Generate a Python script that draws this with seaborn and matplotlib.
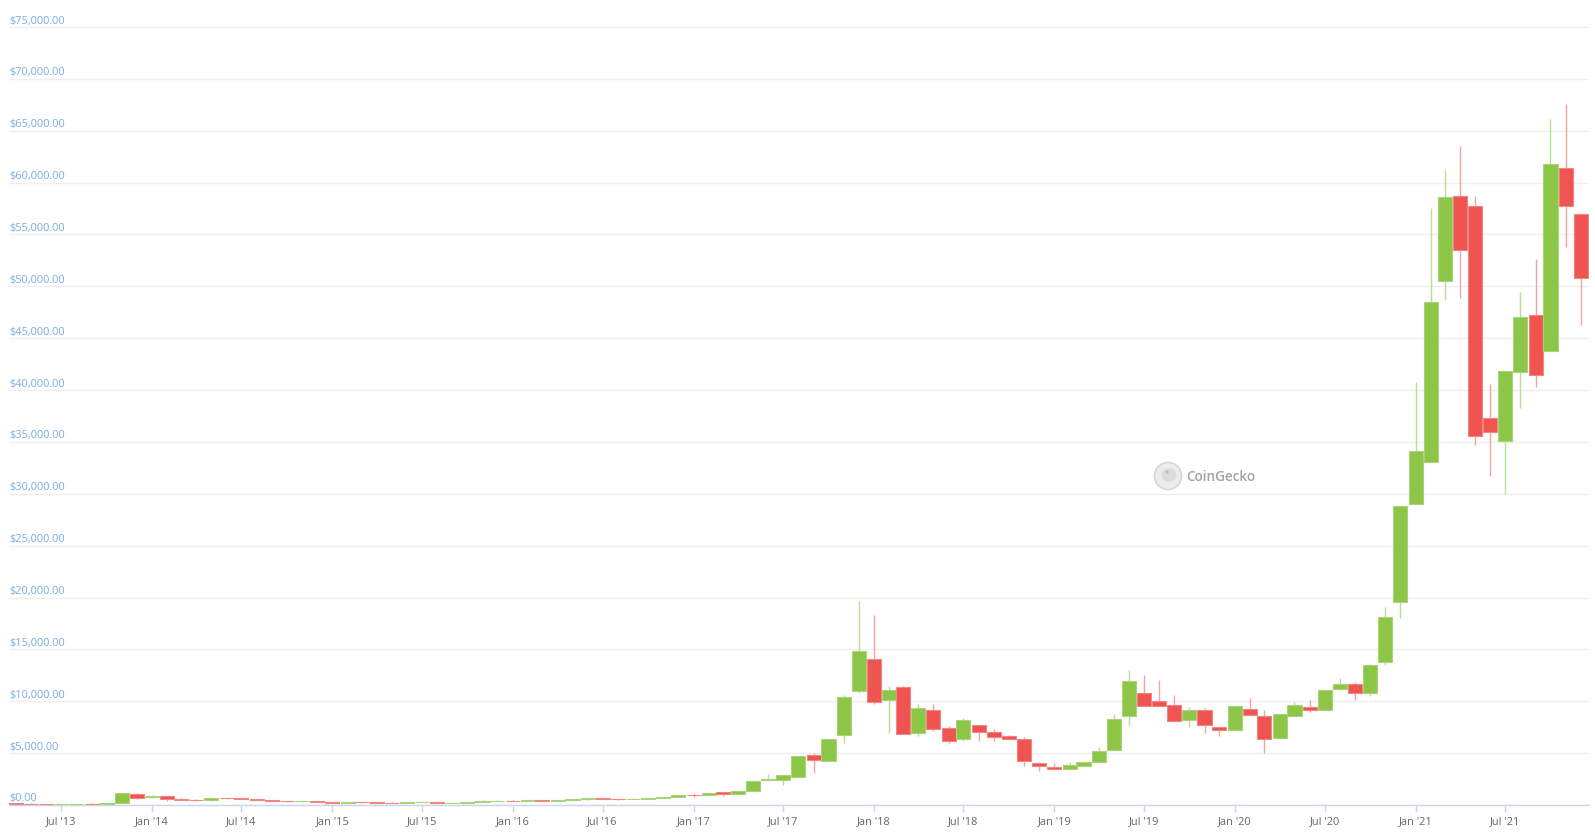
import pandas as pd
import numpy as np
import matplotlib
matplotlib.use("Agg")
import matplotlib.pyplot as plt
import matplotlib.dates as mdates
from matplotlib.patches import Circle, Ellipse
from matplotlib.transforms import IdentityTransform, offset_copy
import seaborn as sns

# monthly candles, Apr 2013 .. Dec 2021 (USD)
months = pd.date_range("2013-04-01", "2021-12-01", freq="MS")

opens = [145, 139, 129, 97, 106, 141, 133, 204, 1080,
         770, 860, 560, 450, 445, 640, 630, 585, 480, 387, 338, 378,
         320, 217, 254, 244, 236, 230, 263, 284, 230, 236, 314, 378,
         430, 369, 437, 416, 448, 531, 673, 624, 574, 609, 698, 742,
         1000, 950, 1220, 1040, 1330, 2400, 2400, 2670, 4790, 4270, 6720, 10960,
         14050, 10090, 11350, 6910, 9130, 7400, 6330, 7710, 7000, 6620, 6360, 4050,
         3630, 3440, 3730, 4150, 5270, 8580, 10830, 10000, 9610, 8240, 9130, 7490,
         7230, 9220, 8550, 6430, 8550, 9420, 9130, 11230, 11630, 10770, 13760, 19540,
         28990, 33040, 50490, 58670, 57710, 37280, 35060, 41700, 47200, 43730, 61360, 56940]

closes = [139, 129, 97, 106, 141, 133, 204, 1130, 720,
          830, 540, 450, 440, 630, 630, 585, 480, 387, 338, 378, 320,
          217, 254, 244, 236, 230, 263, 284, 230, 236, 314, 378, 430,
          369, 437, 416, 448, 531, 673, 624, 574, 609, 698, 742, 963,
          950, 1190, 1040, 1330, 2280, 2500, 2880, 4700, 4340, 6330, 10380, 14820,
          9900, 11060, 6840, 9320, 7300, 6140, 8170, 7000, 6530, 6330, 4210, 3760,
          3440, 3830, 4120, 5180, 8260, 11920, 9540, 9540, 8050, 9130, 7680, 7230,
          9510, 8680, 6330, 8740, 9610, 9130, 11060, 11620, 10770, 13470, 18090, 28800,
          34100, 48460, 58580, 53470, 35620, 35910, 41800, 47000, 41500, 61750, 57700, 50760]

highs = [147, 147, 130, 111, 141, 145, 212, 1150, 1150,
         960, 870, 700, 550, 630, 680, 650, 600, 490, 415, 460, 385,
         320, 265, 300, 262, 248, 268, 315, 285, 245, 335, 495, 465,
         460, 445, 440, 467, 550, 780, 700, 625, 630, 715, 760, 980,
         1150, 1200, 1280, 1350, 2400, 3000, 2900, 4750, 4980, 6400, 10600, 19670,
         18300, 11440, 11470, 9740, 9740, 7620, 8390, 7760, 7330, 6700, 6550, 4180,
         4020, 4120, 4120, 5560, 8740, 13010, 12530, 12050, 10600, 9420, 9340, 7490,
         9510, 10270, 9160, 8740, 9930, 10120, 11060, 12240, 11860, 13590, 19090, 19540,
         40750, 57550, 61220, 63500, 58670, 40580, 41800, 49470, 52630, 66130, 67580, 57070]

lows = [134, 92, 89, 66, 102, 114, 105, 202, 620,
        700, 430, 440, 340, 430, 555, 565, 440, 370, 275, 320, 310,
        170, 215, 240, 215, 228, 220, 255, 200, 225, 236, 300, 350,
        355, 365, 395, 415, 440, 520, 610, 520, 570, 605, 680, 740,
        780, 920, 900, 1030, 1330, 2380, 1930, 2670, 3110, 4270, 5980, 10800,
        9700, 6940, 6800, 6680, 7160, 5950, 6200, 6170, 6200, 6300, 3790, 3250,
        3440, 3440, 3730, 4150, 5270, 7650, 9540, 9540, 8050, 7490, 6970, 6680,
        7230, 8680, 5040, 6430, 8550, 8970, 9130, 11110, 10150, 10540, 13530, 18060,
        28990, 33040, 48710, 48870, 34710, 31740, 29980, 38280, 40340, 43730, 53820, 46290]

y_ticks = list(range(0, 80000, 5000))

df = pd.DataFrame({"date": months, "open": opens, "high": highs,
                   "low": lows, "close": closes})
df["up"] = df["close"] >= df["open"]
df["x"] = mdates.date2num(df["date"])

GREEN, GREEN_EDGE, GREEN_WICK = "#8dc647", "#a9d47c", "#bcdc98"
RED, RED_EDGE, RED_WICK = "#ef5451", "#f28582", "#f3a3a1"

sns.set_theme(style="white")
plt.rcParams["font.family"] = ["Open Sans", "DejaVu Sans"]

fig = plt.figure(figsize=(15.95, 8.37), dpi=100)
ax = fig.add_axes([9 / 1595, 31 / 837, 1580 / 1595, 806 / 837])

# wicks first, bodies on top
wick_cols = np.where(df["up"], GREEN_WICK, RED_WICK)
ax.vlines(df["x"], df["low"], df["high"], colors=wick_cols, linewidth=1.0, zorder=2)

body_bottom = df[["open", "close"]].min(axis=1)
body_height = (df["close"] - df["open"]).abs()
ax.bar(df["x"], body_height, bottom=body_bottom, width=28.5,
       color=np.where(df["up"], GREEN, RED),
       edgecolor=np.where(df["up"], GREEN_EDGE, RED_EDGE),
       linewidth=0.8, zorder=3)

# axes ranges
left = mdates.date2num(pd.Timestamp("2013-07-01")) - 52 / 0.4942
right = mdates.date2num(pd.Timestamp("2021-07-01")) + 84 / 0.4942
ax.set_xlim(left, right)
ax.set_ylim(0, 77700)

# grid + y labels drawn inside the plot
ax.set_yticks(y_ticks)
ax.yaxis.grid(True, color="#efefef", linewidth=1.0)
ax.xaxis.grid(False)
ax.tick_params(axis="y", left=False, labelleft=False)
lab_trans = offset_copy(ax.get_yaxis_transform(), fig=fig, x=0, y=1.5, units="dots")
for v in y_ticks:
    ax.text(0.0, v, f"${v:,.2f}", transform=lab_trans, ha="left", va="bottom",
            fontsize=7.9, color="#78ade4", zorder=5)

ax.xaxis_date()
ax.xaxis.set_major_locator(mdates.MonthLocator(bymonth=[1, 7]))
ax.xaxis.set_major_formatter(mdates.DateFormatter("%b '%y"))
ax.tick_params(axis="x", bottom=True, length=5, width=1, color="#ccd6eb",
               labelsize=7.9, labelcolor="#666666", pad=2)

for s in ["top", "left", "right"]:
    ax.spines[s].set_visible(False)
ax.spines["bottom"].set_color("#ccd6eb")
ax.spines["bottom"].set_linewidth(1.0)

# watermark
cx, cy = 1168, 837 - 477
fig.add_artist(Circle((cx, cy), 13.5, transform=IdentityTransform(),
                      facecolor="#ececec", edgecolor="#d6d6d6", linewidth=1.2, zorder=1))
fig.add_artist(Ellipse((cx + 1, cy + 1), 15, 14, transform=IdentityTransform(),
                       facecolor="#dcdcdc", edgecolor="none", zorder=1))
fig.add_artist(Circle((cx - 1, cy + 4), 1.6, transform=IdentityTransform(),
                      facecolor="#bdbdbd", edgecolor="none", zorder=1))
fig.text(1186 / 1595, 1 - 477 / 837, "CoinGecko", ha="left", va="center",
         fontsize=9.8, color="#a3a3a3", fontweight="semibold")

fig.savefig("out.png", dpi=100)
